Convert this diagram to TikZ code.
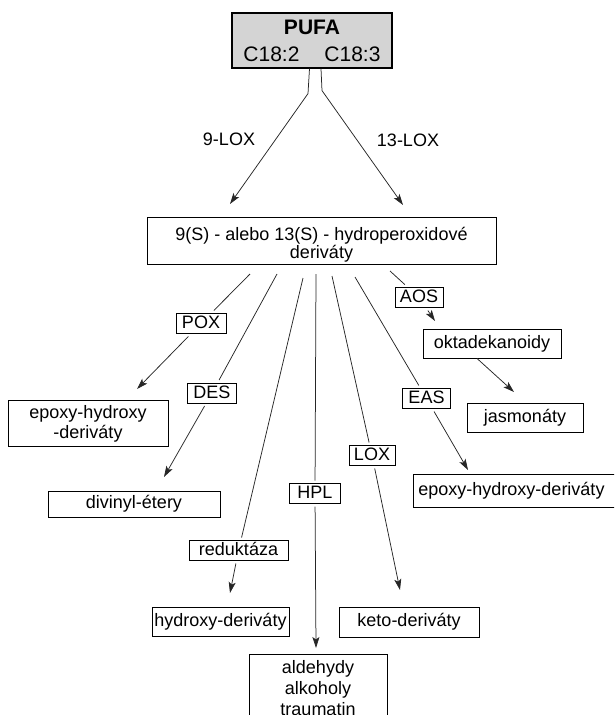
\documentclass[tikz,border=0pt]{standalone}
\usepackage{fontspec}
\setmainfont{Liberation Sans}
\usepackage{tikz}
\usetikzlibrary{positioning,arrows.meta}

\begin{document}
\begin{tikzpicture}[
  x=1pt, y=-1pt,
  >={Stealth[length=11pt,width=7pt,inset=2.5pt]},
  every node/.style={font=\fontsize{18}{20}\selectfont},
  flow/.style={line width=0.75pt, black!85},
  src/.style={draw, line width=1.2pt, fill=black!17, align=center,
    minimum width=160pt, minimum height=55pt, font=\fontsize{21}{27}\selectfont},
  res/.style={draw, line width=0.9pt, align=center, inner sep=2pt},
  res1/.style={res, text height=13pt, text depth=4pt},
  enz/.style={draw, line width=0.9pt, inner xsep=6pt, inner ysep=2pt,
    text height=13pt, text depth=3pt, outer sep=3pt},
]
\clip (0,0) rectangle (614,715);

% PUFA and the two lipoxygenases
\node[src] (pufa) at (312,40.5) {\textbf{PUFA}\\C18:2\hspace{25pt}C18:3};
\node (lox9) at (229,139) {9-LOX};
\node (lox13) at (408,140) {13-LOX};
\coordinate (t9) at (230,204);
\coordinate (t13) at (403,205);
\draw[flow,->] ([xshift=-2.5pt]pufa.south) -- ++(-1.5,25) -- (t9);
\draw[flow,->] ([xshift=9pt]pufa.south) -- ++(1,22) -- (t13);

% Hydroperoxides
\node[res, minimum width=349pt, minimum height=44pt, font=\fontsize{18}{16}\selectfont]
  (hpod) at (321.5,241) {\rule{0pt}{21pt}9(S) - alebo 13(S) - hydroperoxidové\\deriváty};

% Enzymes
\node[enz] (pox) at (201,323.5) {POX};
\node[enz] (des) at (212,393) {DES};
\node[enz, inner xsep=10pt] (red) at (238.5,550.5) {reduktáza};
\node[enz, inner xsep=8pt] (hpl) at (315,493.5) {HPL};
\node[enz, inner xsep=5pt] (lox) at (372,455.5) {LOX};
\node[enz] (eas) at (426.5,398.5) {EAS};
\node[enz, inner xsep=5pt] (aos) at (419,297.5) {AOS};

% Products
\node[res, minimum width=160pt, minimum height=46pt] (epl) at (88,423.5) {epoxy-hydroxy\\-deriváty};
\node[res1, minimum width=172pt, minimum height=26pt] (div) at (134,504) {divinyl-étery};
\node[res1, inner xsep=0pt, minimum width=137pt, minimum height=29pt] (hyd) at (220.5,621.5) {hydroxy-deriváty};
\node[res, anchor=north, inner ysep=6pt, minimum width=138pt, font=\fontsize{18}{21}\selectfont]
  (ald) at (318,654) {aldehydy\\alkoholy\\traumatin};
\node[res1, minimum width=140pt, minimum height=30pt] (keto) at (409,622) {keto-deriváty};
\node[res1, text width=200pt, align=left, inner xsep=5pt, minimum height=33pt, anchor=west]
  (epr) at (413,490.5) {epoxy-hydroxy-deriváty};
\node[res1, minimum width=138pt, minimum height=29pt] (okt) at (492,343.5) {oktadekanoidy};
\node[res1, minimum width=116pt, minimum height=29pt] (jas) at (525,417.5) {jasmonáty};

% Branch starts and arrow ends
\coordinate (s1) at (250,274);  \coordinate (t1) at (137,389);
\coordinate (s2) at (277,274);  \coordinate (t2) at (164,477);
\coordinate (s3) at (303,278);  \coordinate (t3) at (230,593);
\coordinate (s4) at (316,274);  \coordinate (t4) at (316,648);
\coordinate (s5) at (332,276);  \coordinate (t5) at (400,590);
\coordinate (s6) at (355,277);  \coordinate (t6) at (468,470);
\coordinate (s7) at (390,271);  \coordinate (t7) at (435,321);
\coordinate (t8) at (514,392);

\draw[flow] (s1) -- (pox);  \draw[flow,->] (pox) -- (t1);
\draw[flow] (s2) -- (des);  \draw[flow,->] (des) -- (t2);
\draw[flow] (s3) -- (red);  \draw[flow,->] (red) -- (t3);
\draw[flow] (s4) -- (hpl);  \draw[flow,->] (hpl) -- (t4);
\draw[flow] (s5) -- (lox);  \draw[flow,->] (lox) -- (t5);
\draw[flow] (s6) -- (eas);  \draw[flow,->] (eas) -- (t6);
\draw[flow] (s7) -- (aos);  \draw[flow,->] (aos) -- (t7);
\draw[flow,->] ([xshift=-15pt]okt.south) -- (t8);

\end{tikzpicture}
\end{document}
